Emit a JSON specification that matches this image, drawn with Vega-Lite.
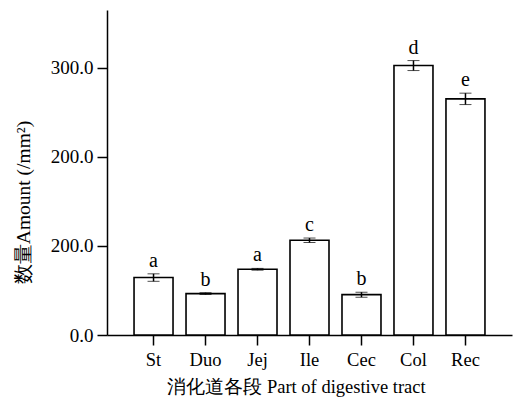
{
  "$schema": "https://vega.github.io/schema/vega-lite/v6.json",
  "autosize": {"type": "none"},
  "padding": {"left": 107, "top": 10, "right": 8, "bottom": 70},
  "width": 405,
  "height": 325,
  "background": "white",
  "config": {
    "font": "Liberation Serif",
    "view": {"stroke": null},
    "axis": {
      "grid": false,
      "domainColor": "black",
      "domainWidth": 1.5,
      "tickColor": "black",
      "tickWidth": 1.5,
      "tickSize": 10,
      "labelFont": "Liberation Serif",
      "labelFontSize": 18.5,
      "labelFontWeight": "normal",
      "labelColor": "black",
      "titleFont": "Liberation Serif",
      "titleFontSize": 18.5,
      "titleFontWeight": "normal",
      "titleColor": "black"
    }
  },
  "data": {
    "values": [
      {"part": "St", "mean": 64.5, "err": 4.2, "sig": "a"},
      {"part": "Duo", "mean": 46.5, "err": 1, "sig": "b"},
      {"part": "Jej", "mean": 73.8, "err": 1, "sig": "a"},
      {"part": "Ile", "mean": 106.4, "err": 2.5, "sig": "c"},
      {"part": "Cec", "mean": 45.3, "err": 2.8, "sig": "b"},
      {"part": "Col", "mean": 302.6, "err": 5.6, "sig": "d"},
      {"part": "Rec", "mean": 265.2, "err": 6.4, "sig": "e"}
    ]
  },
  "encoding": {
    "x": {
      "field": "part",
      "type": "nominal",
      "sort": null,
      "scale": {"paddingInner": 0.25, "paddingOuter": 0.52},
      "axis": {"labelAngle": 0, "labelPadding": 5, "title": "消化道各段 Part of digestive tract", "titlePadding": 9, "titleX": 189, "titleAlign": "center"}
    }
  },
  "layer": [
    {
      "mark": {"type": "bar", "fill": "white", "stroke": "black", "strokeWidth": 1.6},
      "encoding": {
        "y": {
          "field": "mean",
          "type": "quantitative",
          "title": "数量Amount (/mm²)",
          "scale": {"domain": [0, 365], "nice": false},
          "axis": {
            "values": [0, 100, 200, 300],
            "labelExpr": "datum.value == 100 ? '200.0' : format(datum.value, '.1f')",
            "labelFontSize": 19,
            "labelPadding": 4,
            "titleFontSize": 19.5,
            "titleX": -78,
            "titleY": 192,
            "titleAlign": "center",
            "titleBaseline": "alphabetic",
            "titleAngle": -90
          }
        }
      }
    },
    {
      "mark": {"type": "errorbar", "ticks": {"size": 12, "color": "black", "strokeWidth": 1.5}, "rule": {"color": "black", "strokeWidth": 1.5}},
      "encoding": {
        "y": {"field": "mean", "type": "quantitative", "title": "数量Amount (/mm²)"},
        "yError": {"field": "err"}
      }
    },
    {
      "transform": [{"calculate": "datum.mean + datum.err", "as": "top"}],
      "mark": {"type": "text", "baseline": "alphabetic", "dy": -7, "fontSize": 20, "font": "Liberation Serif", "color": "black"},
      "encoding": {
        "y": {"field": "top", "type": "quantitative", "title": "数量Amount (/mm²)"},
        "text": {"field": "sig"}
      }
    }
  ]
}
